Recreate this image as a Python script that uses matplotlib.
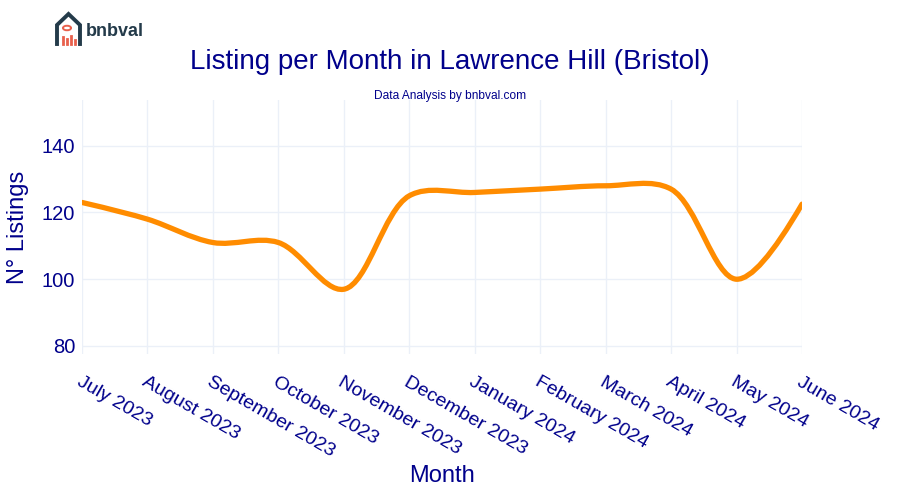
import numpy as np
import matplotlib.pyplot as plt
from matplotlib.path import Path
from matplotlib.patches import PathPatch, Circle
from matplotlib.lines import Line2D

plt.rcParams['font.family'] = ['Liberation Sans', 'DejaVu Sans']

months = ['July 2023', 'August 2023', 'September 2023', 'October 2023',
          'November 2023', 'December 2023', 'January 2024', 'February 2024',
          'March 2024', 'April 2024', 'May 2024', 'June 2024']
listings = [123, 118, 111, 111, 97, 125, 126, 127, 128, 127, 100, 122.5]

TXT = '#00008B'
LINE = '#FF8C00'
GRID = '#EBF0F8'


def spline_path(xs, ys, sx, sy, smoothness=1.0):
    # plotly-style spline (catmull-rom tangents), computed in pixel space
    pts = np.column_stack([np.asarray(xs) * sx, np.asarray(ys) * sy])
    tang = []
    for i in range(1, len(pts) - 1):
        d1 = pts[i - 1] - pts[i]
        d2 = pts[i + 1] - pts[i]
        d1a = np.hypot(*d1) ** 0.5
        d2a = np.hypot(*d2) ** 0.5
        num = (d2a * d2a * d1 - d1a * d1a * d2) * smoothness
        den1 = 3 * d2a * (d1a + d2a)
        den2 = 3 * d1a * (d1a + d2a)
        tang.append((pts[i] + num / den1, pts[i] - num / den2))
    verts = [pts[0], tang[0][0], pts[1]]
    codes = [Path.MOVETO, Path.CURVE3, Path.CURVE3]
    for i in range(2, len(pts) - 1):
        verts += [tang[i - 2][1], tang[i - 1][0], pts[i]]
        codes += [Path.CURVE4] * 3
    verts += [tang[-1][1], pts[-1]]
    codes += [Path.CURVE3] * 2
    verts = np.array(verts) / [sx, sy]
    return Path(verts, codes)


fig = plt.figure(figsize=(9, 5), dpi=100)
ax = fig.add_axes([82 / 900, 1 - 354 / 500, 720 / 900, 254 / 500])

x = np.arange(len(months))
ax.set_xlim(0, len(months) - 1)
ax.set_ylim(77.6, 153.7)

path = spline_path(x, listings, 65.45, 3.34)
ax.add_patch(PathPatch(path, facecolor='none', edgecolor=LINE, lw=3.8,
                       capstyle='round', joinstyle='round', zorder=3))

ax.set_xticks(x)
ax.set_xticklabels(months, rotation=-30, ha='left', va='top',
                   rotation_mode='anchor', fontsize=14, color=TXT)
ax.set_yticks([80, 100, 120, 140])
ax.tick_params(axis='y', labelsize=14.5, labelcolor=TXT, length=0, pad=5)
ax.tick_params(axis='x', length=0, pad=14)
ax.grid(True, color=GRID, lw=1)
ax.set_axisbelow(True)
for s in ax.spines.values():
    s.set_visible(False)

ax.set_xlabel('Month', fontsize=17, color=TXT, labelpad=3)
ax.set_ylabel('N° Listings', fontsize=17, color=TXT, labelpad=9)

fig.text(0.5, 1 - 62 / 500, 'Listing per Month in Lawrence Hill (Bristol)',
         ha='center', va='center', fontsize=20, color=TXT)
fig.text(0.5, 1 - 96 / 500, 'Data Analysis by bnbval.com',
         ha='center', va='center', fontsize=8.6, color=TXT)

# logo
dark = '#243b4a'
red = '#e8604c'
fig.add_artist(Line2D(np.array([57, 57, 68.5, 80, 80]) / 900,
                      1 - np.array([44, 25, 14, 25, 44]) / 500,
                      color=dark, lw=2.8, solid_joinstyle='miter'))
fig.add_artist(Circle((67 / 900, 1 - 28 / 500), 0.0045, transform=fig.transFigure,
                      fill=False, ec=red, lw=1.4))
for bx, bh in [(63, 7), (67, 5), (71, 8), (75, 4)]:
    fig.add_artist(Line2D([bx / 900, bx / 900], [1 - 44 / 500, 1 - (44 - bh) / 500],
                          color=red, lw=2))
fig.text(86 / 900, 1 - 31 / 500, 'bnbval', ha='left', va='center',
         fontsize=13, fontweight='bold', color=dark)

fig.savefig('out.png', dpi=100)
